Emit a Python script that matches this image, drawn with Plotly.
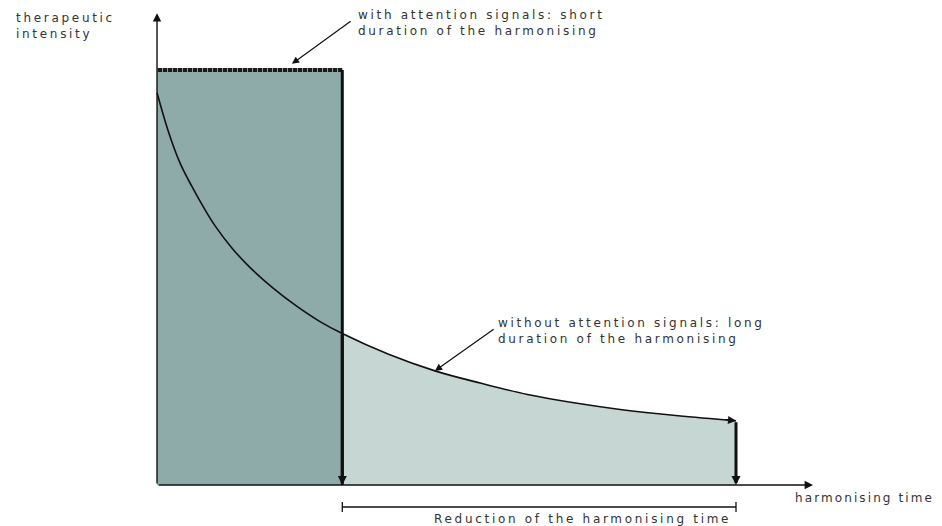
import plotly.graph_objects as go

# Harmonising time (t) and therapeutic intensity without attention signals
t_without = [0, 2, 4, 6, 8, 10, 13, 16, 20, 24, 28, 32, 40, 48, 56, 64, 72, 80, 90, 100]
i_without = [94.5, 85, 77.5, 72, 67, 62.5, 57, 52.5, 47.5, 43.2, 39.5, 36.5,
             31.5, 27.5, 24.5, 21.8, 19.8, 18.2, 16.7, 15.5]

# With attention signals: full intensity held for a short time
t_with_end = 32
i_with = 100

# Axis extents (arrow tips)
t_axis_end = 113.3
i_axis_end = 113.7

# Labels
label_y = ["therapeutic", "intensity"]
label_x = "harmonising time"
label_with = ["with attention signals: short", "duration of the harmonising"]
label_without = ["without attention signals: long", "duration of the harmonising"]
label_reduction = "Reduction of the harmonising time"

DARK = "#8EABAA"
LIGHT = "#C6D6D3"
INK = "#111111"
TEXT = "#333333"
FONT = "DejaVu Sans"

W, H = 942, 526
X_RANGE = [-27.12, 135.58]
Y_RANGE = [-9.88, 116.87]
BRACKET_Y = -5.3


def spaced(lines, gap=2.7):
    return "<br>".join(f"<span style='letter-spacing:{gap}px'>{s}</span>" for s in lines)


fig = go.Figure()

# short, intense harmonising block
fig.add_trace(go.Scatter(
    x=[0, 0, t_with_end, t_with_end, 0],
    y=[0, i_with, i_with, 0, 0],
    mode="lines", fill="toself", fillcolor=DARK,
    line=dict(width=0), hoverinfo="skip"))

# area under the long decay beyond the short block
tail_t = [t for t in t_without if t >= t_with_end]
tail_i = [v for t, v in zip(t_without, i_without) if t >= t_with_end]
fig.add_trace(go.Scatter(
    x=tail_t, y=tail_i, mode="lines", fill="tozeroy", fillcolor=LIGHT,
    line=dict(width=0, shape="spline", smoothing=1), hoverinfo="skip"))

# hatched top edge of the block
fig.add_trace(go.Scatter(
    x=[0, t_with_end], y=[i_with, i_with], mode="lines",
    line=dict(width=4, color="#1a1a1a"), hoverinfo="skip"))
fig.add_trace(go.Scatter(
    x=[0, t_with_end], y=[i_with, i_with], mode="lines",
    line=dict(width=4, color="#9a9a9a", dash="1px,4px"), hoverinfo="skip"))

# right edge of the block
fig.add_trace(go.Scatter(
    x=[t_with_end, t_with_end], y=[i_with, 0], mode="lines",
    line=dict(width=3, color=INK), hoverinfo="skip"))

# decay curve without attention signals
fig.add_trace(go.Scatter(
    x=t_without, y=i_without, mode="lines",
    line=dict(width=1.6, color=INK, shape="spline", smoothing=1),
    hoverinfo="skip"))

# reduction bracket
fig.add_trace(go.Scatter(
    x=[t_with_end, t_without[-1]], y=[BRACKET_Y, BRACKET_Y], mode="lines+markers",
    line=dict(width=1.3, color=INK),
    marker=dict(symbol="line-ns", size=7, line=dict(width=1.3, color=INK)),
    hoverinfo="skip"))


def arrow(x0, y0, x1, y1, width=1.3, size=1.1):
    fig.add_annotation(
        x=x1, y=y1, ax=x0, ay=y0, xref="x", yref="y", axref="x", ayref="y",
        text="", showarrow=True, arrowhead=2, arrowsize=size,
        arrowwidth=width, arrowcolor=INK, standoff=0, startstandoff=0)


# axes
arrow(0, 0, 0, i_axis_end, width=1.4, size=1.2)
arrow(0, 0, t_axis_end, 0, width=1.4, size=1.2)

# drop arrows at the end of each harmonising
arrow(t_with_end, i_without[t_without.index(t_with_end)], t_with_end, 0, width=3, size=0.6)
arrow(t_without[-1], i_without[-1], t_without[-1], 0, width=3, size=0.6)

# arrowhead at the end of the decay curve (short pixel-offset tail)
fig.add_annotation(
    x=t_without[-1], y=i_without[-1], xref="x", yref="y", ax=-12, ay=-1,
    text="", showarrow=True, arrowhead=2, arrowsize=1.0, arrowwidth=1.6,
    arrowcolor=INK, standoff=0, startstandoff=0)

# label pointers
arrow(33.7, 112.0, 23.3, i_with + 1.5, width=1.2, size=1.2)
k = t_without.index(48)
arrow(58.4, 37.8, t_without[k], i_without[k], width=1.2, size=1.2)


def label(lines, px, py, gap=2.7):
    fig.add_annotation(
        x=px / W, y=1 - py / H, xref="paper", yref="paper",
        xanchor="left", yanchor="top", showarrow=False, align="left",
        text=spaced(lines, gap), font=dict(family=FONT, size=12, color=TEXT))


label(label_y, 14, 9)
label(label_with, 356, 6)
label(label_without, 496, 314)
label([label_x], 793, 489, gap=2.1)
label([label_reduction], 432, 510)

fig.update_layout(
    width=W, height=H, autosize=False,
    margin=dict(l=0, r=0, t=0, b=0, pad=0),
    paper_bgcolor="white", plot_bgcolor="white",
    showlegend=False,
    xaxis=dict(visible=False, range=X_RANGE, fixedrange=True),
    yaxis=dict(visible=False, range=Y_RANGE, fixedrange=True),
)

fig.write_html("out.html")
